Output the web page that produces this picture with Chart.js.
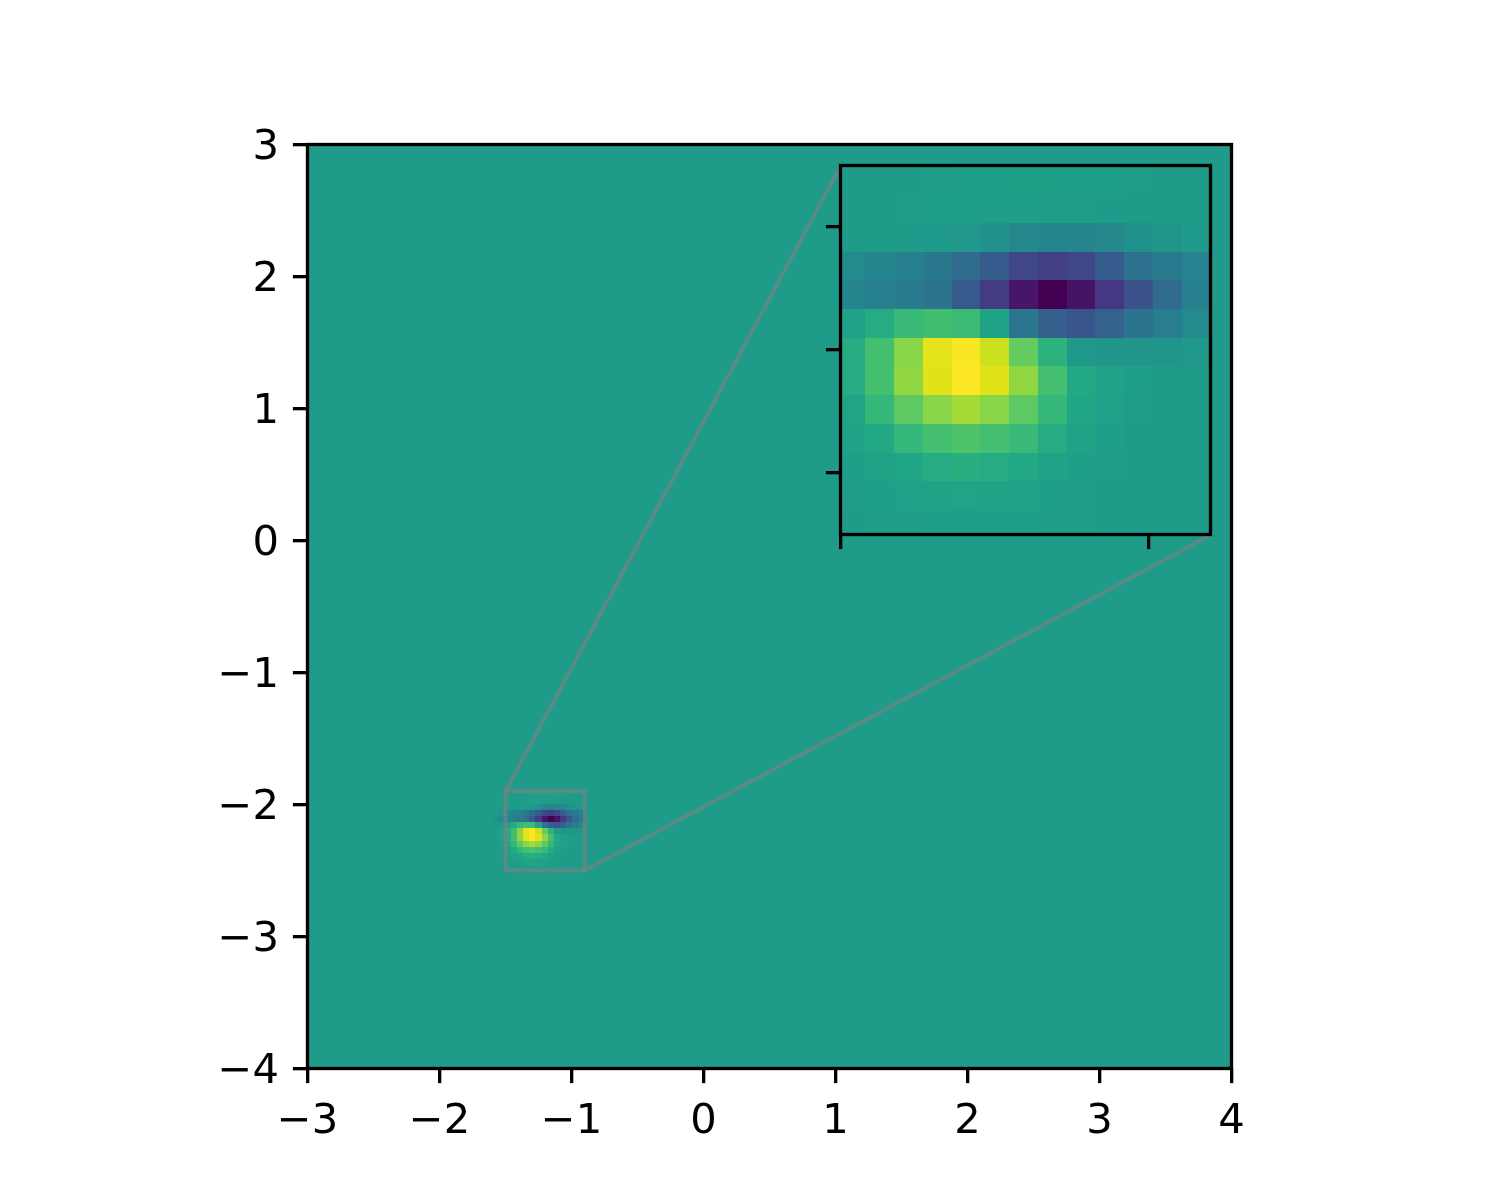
<!DOCTYPE html>
<html>
<head>
<meta charset="utf-8">
<title>Inset zoom</title>
<script src="https://cdn.jsdelivr.net/npm/chart.js@4"></script>
<style>
  html, body { margin: 0; padding: 0; background: #fff; }
  #wrap { position: relative; width: 1500px; height: 1200px; }
  canvas { position: absolute; left: 0; top: 0; display: block; }
</style>
</head>
<body>
<div id="wrap">
  <canvas id="mainChart" width="1500" height="1200"></canvas>
  <canvas id="insetChart" width="1500" height="1200"></canvas>
</div>
<script>
// axis limits and ticks
const mainXRange = [-3, 4];
const mainYRange = [-4, 3];
const mainXTicks = [-3, -2, -1, 0, 1, 2, 3, 4];
const mainYTicks = [-4, -3, -2, -1, 0, 1, 2, 3];
const zoomXRange = [-1.5, -0.9];
const zoomYRange = [-2.5, -1.9];
const zoomXTicks = [-1.5, -1.0];
const zoomYTicks = [-2.4, -2.2, -2.0];
// where the inset sits, in main axes data units
const insetXSpan = [1.04, 3.84];
const insetYSpan = [0.04, 2.84];

// the data grid: 150 cells over the 7 unit wide image, patch starts at cell 30
const gridCells = 150;
const patchStart = 30;
const backgroundValue = 0.54;

// colour-normalised values (0..1), top row first
const row44 = [.54, .54, .54, .54, .54, .545, .55, .553, .556, .556, .553, .55, .545, .542, .54];
const row43 = [.54, .54, .54, .542, .545, .55, .553, .553, .55, .548, .545, .542, .54, .54, .54];
const row42 = [.54, .54, .54, .54, .54, .535, .525, .505, .47, .46, .46, .47, .50, .52, .535];
const row41 = [.53, .51, .48, .46, .44, .40, .35, .29, .21, .18, .21, .29, .37, .41, .45];
const row40 = [.52, .49, .46, .44, .42, .38, .28, .17, .06, .00, .05, .15, .25, .35, .44];
const row39 = [.54, .54, .56, .61, .66, .69, .67, .57, .39, .30, .26, .31, .38, .43, .48];
const row38 = [.54, .56, .61, .70, .82, .96, .995, .92, .76, .63, .53, .51, .51, .52, .53];
const row37 = [.54, .56, .61, .70, .83, .95, 1.0, .95, .83, .70, .60, .57, .55, .54, .54];
const row36 = [.54, .55, .58, .65, .75, .82, .86, .82, .75, .65, .59, .56, .545, .54, .54];
const row35 = [.54, .545, .57, .60, .65, .70, .72, .70, .66, .61, .57, .55, .54, .54, .54];
const row34 = [.54, .54, .555, .57, .59, .61, .62, .61, .60, .57, .555, .545, .54, .54, .54];
const row33 = [.54, .54, .545, .55, .56, .57, .575, .57, .565, .555, .545, .54, .54, .54, .54];
const row32 = [.54, .54, .54, .545, .548, .55, .555, .555, .55, .548, .545, .54, .54, .54, .54];
const row31 = [.54, .54, .54, .54, .54, .542, .545, .545, .542, .54, .54, .54, .54, .54, .54];
const row30 = [.54, .54, .54, .54, .54, .54, .54, .54, .54, .54, .54, .54, .54, .54, .54];
const heatRows = [row44, row43, row42, row41, row40, row39, row38, row37, row36, row35, row34, row33, row32, row31, row30];

// viridis, 21 stops
const viridisStops = [
  '#440154', '#471365', '#482475', '#453781', '#414487', '#3b528b', '#355f8d', '#2f6c8e', '#2a788e', '#26828e', '#21918c',
  '#1f9e89', '#22a884', '#35b779', '#44bf70', '#5ec962', '#7ad151', '#9fda3a', '#bddf26', '#dfe318', '#fde725'
].map(h => [1, 3, 5].map(n => parseInt(h.slice(n, n + 2), 16)));

function viridis(t) {
  const pos = Math.min(Math.max(t, 0), 1) * (viridisStops.length - 1);
  const i = Math.min(Math.floor(pos), viridisStops.length - 2);
  const f = pos - i;
  const c = viridisStops[i].map((a, n) => Math.round(a + (viridisStops[i + 1][n] - a) * f));
  return `rgb(${c[0]},${c[1]},${c[2]})`;
}

const SPINE = 3.33;
const TICK_LEN = 14.6;
const FONT = { family: '"DejaVu Sans"', size: 41.67 };

// paints the image through the chart's own scales, then the frame on top
const heatPlugin = {
  id: 'heat',
  beforeDatasetsDraw(chart) {
    const { ctx, chartArea: a, scales: { x, y } } = chart;
    const cellW = (mainXRange[1] - mainXRange[0]) / gridCells;
    const cellH = (mainYRange[1] - mainYRange[0]) / gridCells;
    ctx.save();
    ctx.beginPath();
    ctx.rect(a.left, a.top, a.width, a.height);
    ctx.clip();
    ctx.fillStyle = viridis(backgroundValue);
    ctx.fillRect(a.left, a.top, a.width, a.height);
    heatRows.forEach((row, r) => {
      const j = patchStart + heatRows.length - 1 - r;
      row.forEach((v, c) => {
        const k = patchStart + c;
        const x0 = Math.round(x.getPixelForValue(mainXRange[0] + k * cellW));
        const x1 = Math.round(x.getPixelForValue(mainXRange[0] + (k + 1) * cellW));
        const y0 = Math.round(y.getPixelForValue(mainYRange[0] + (j + 1) * cellH));
        const y1 = Math.round(y.getPixelForValue(mainYRange[0] + j * cellH));
        ctx.fillStyle = viridis(v);
        ctx.fillRect(x0, y0, x1 - x0, y1 - y0);
      });
    });
    ctx.restore();
  },
  afterDatasetsDraw(chart) {
    const { ctx, chartArea: a } = chart;
    ctx.save();
    ctx.strokeStyle = '#000';
    ctx.lineWidth = SPINE;
    ctx.strokeRect(a.left, a.top, a.width, a.height);
    ctx.restore();
  }
};

function axisOptions(range, ticks, showLabels, fit, labelOffset) {
  return {
    type: 'linear',
    min: range[0],
    max: range[1],
    afterBuildTicks: s => { s.ticks = ticks.map(v => ({ value: v })); },
    afterFit: fit,
    border: { display: false },
    grid: { drawOnChartArea: false, drawTicks: true, tickLength: TICK_LEN, tickColor: '#000', tickWidth: SPINE, lineWidth: SPINE },
    ticks: {
      display: showLabels,
      color: '#000',
      font: FONT,
      padding: 14,
      labelOffset,
      autoSkip: false,
      maxRotation: 0,
      callback: v => String(v).replace('-', '\u2212')
    }
  };
}

function makeChart(id, datasets, xRange, yRange, xTicks, yTicks, showLabels, box) {
  return new Chart(document.getElementById(id), {
    type: 'scatter',
    data: { datasets },
    options: {
      responsive: false,
      animation: false,
      events: [],
      layout: { padding: { top: box.top, right: 1500 - box.right, left: 0, bottom: 0 } },
      plugins: { legend: { display: false }, tooltip: { enabled: false }, title: { display: false } },
      scales: {
        x: axisOptions(xRange, xTicks, showLabels, s => { s.height = 1200 - box.bottom; }, 0),
        y: axisOptions(yRange, yTicks, showLabels, s => { s.width = box.left; }, 3.5)
      }
    },
    plugins: [heatPlugin]
  });
}

const indicator = (data) => ({
  data,
  showLine: true,
  fill: false,
  pointRadius: 0,
  borderColor: 'rgba(128,128,128,0.6)',
  borderWidth: 4,
  tension: 0
});

const zoomBox = [
  { x: zoomXRange[0], y: zoomYRange[0] }, { x: zoomXRange[1], y: zoomYRange[0] },
  { x: zoomXRange[1], y: zoomYRange[1] }, { x: zoomXRange[0], y: zoomYRange[1] },
  { x: zoomXRange[0], y: zoomYRange[0] }
];
const upperLink = [{ x: zoomXRange[0], y: zoomYRange[1] }, { x: insetXSpan[0], y: insetYSpan[1] }];
const lowerLink = [{ x: zoomXRange[1], y: zoomYRange[0] }, { x: insetXSpan[1], y: insetYSpan[0] }];

makeChart('mainChart', [indicator(zoomBox), indicator(upperLink), indicator(lowerLink)],
  mainXRange, mainYRange, mainXTicks, mainYTicks, true,
  { left: 307.5, right: 1231.5, top: 144.5, bottom: 1068.5 });

makeChart('insetChart', [],
  zoomXRange, zoomYRange, zoomXTicks, zoomYTicks, false,
  { left: 840.5, right: 1210.5, top: 165.5, bottom: 534.5 });
</script>
</body>
</html>
